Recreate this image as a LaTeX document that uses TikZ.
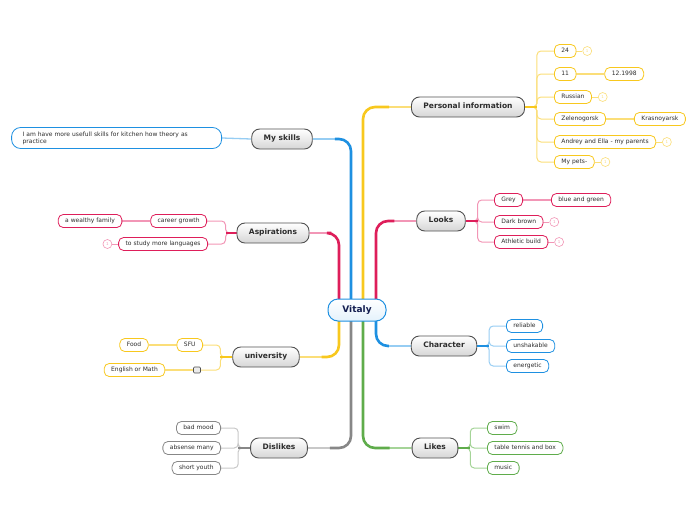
\documentclass[tikz,border=0pt]{standalone}
\usepackage{fontspec}
\setmainfont{DejaVu Sans}
\usepackage{tikz}
\usetikzlibrary{positioning,backgrounds}
\definecolor{yel}{RGB}{248,200,30}
\definecolor{yelL}{RGB}{251,222,120}
\definecolor{crim}{RGB}{222,30,90}
\definecolor{crimL}{RGB}{242,150,182}
\definecolor{sky}{RGB}{30,144,225}
\definecolor{skyL}{RGB}{150,205,243}
\definecolor{grn}{RGB}{95,172,75}
\definecolor{grnL}{RGB}{165,212,152}
\definecolor{gry}{RGB}{135,135,135}
\definecolor{gryL}{RGB}{200,200,200}
\definecolor{topicline}{RGB}{80,80,80}
\definecolor{ink}{RGB}{45,45,45}
\definecolor{navy}{RGB}{20,30,80}

\tikzset{
  topic/.style={draw=topicline, line width=0.9pt, rounded corners=8pt,
    top color=white, bottom color=black!16, minimum height=20pt,
    inner xsep=12pt, inner ysep=0pt, text height=5.4pt, text depth=1.5pt,
    text=ink, font=\bfseries\fontsize{7.5}{8.5}\selectfont},
  leaf/.style={draw=#1, line width=0.8pt, fill=white, rounded corners=5pt,
    minimum height=13pt, inner xsep=7pt, inner ysep=0pt,
    text height=4.3pt, text depth=1.3pt, text=ink,
    font=\fontsize{6}{7}\selectfont},
  numc/.style={circle, draw=#1, line width=0.6pt, fill=white, minimum size=9pt,
    inner sep=0pt, text=#1, font=\fontsize{4}{4}\selectfont},
  trunk/.style={draw=#1, line width=1.8pt, rounded corners=12pt},
  trunkS/.style={draw=#1, line width=2.6pt, rounded corners=12pt, shorten >=22pt},
  stub/.style={draw=#1, line width=1.4pt},
  twig/.style={draw=#1, line width=1pt, rounded corners=4pt},
  link/.style={draw=#1, line width=1.3pt},
}

\begin{document}
\begin{tikzpicture}[x=1pt,y=-1pt]
  \useasboundingbox (0,0) rectangle (696,520);
  % central topic
  \node[draw=sky, line width=1pt, rounded corners=10pt, top color=white,
    bottom color=sky!12, minimum width=58pt, minimum height=22pt, text=navy,
    font=\bfseries\fontsize{9}{10}\selectfont] (vit) at (357,310) {Vitaly};

  % main topics
  \node[topic] (pinfo)  at (468,107) {Personal information};
  \node[topic] (looks)  at (441,221) {Looks};
  \node[topic] (charac) at (444,346) {Character};
  \node[topic] (likes)  at (435,448) {Likes};
  \node[topic] (skills) at (282,139) {My skills};
  \node[topic] (aspir)  at (273,233) {Aspirations};
  \node[topic] (univ)   at (266,357) {university};
  \node[topic] (dislk)  at (279,448) {Dislikes};

  % personal information
  \node[leaf=yel, anchor=west] (p24) at (554,51) {24};
  \node[numc=yelL, right=6pt of p24] (p24n) {1};
  \node[leaf=yel, anchor=west] (p11) at (554,74) {11};
  \node[leaf=yel, right=28pt of p11] (p1998) {12.1998};
  \node[leaf=yel, anchor=west] (prus) at (554,97) {Russian};
  \node[numc=yelL, right=6pt of prus] (prusn) {1};
  \node[leaf=yel, anchor=west] (pzel) at (554,119) {Zelenogorsk};
  \node[leaf=yel, right=28pt of pzel] (pkras) {Krasnoyarsk};
  \node[leaf=yel, anchor=west] (ppar) at (554,142) {Andrey and Ella - my parents};
  \node[numc=yelL, right=6pt of ppar] (pparn) {1};
  \node[leaf=yel, anchor=west] (ppet) at (554,162) {My pets-};
  \node[numc=yelL, right=6pt of ppet] (ppetn) {1};

  % looks
  \node[leaf=crim, anchor=west] (lgrey) at (494,200) {Grey};
  \node[leaf=crim, right=28pt of lgrey] (leyes) {blue and green};
  \node[leaf=crim, anchor=west] (lhair) at (494,222) {Dark brown};
  \node[numc=crimL, right=6pt of lhair] (lhairn) {1};
  \node[leaf=crim, anchor=west] (lbuild) at (494,242) {Athletic build};
  \node[numc=crimL, right=6pt of lbuild] (lbuildn) {1};

  % character
  \node[leaf=sky, anchor=west] (crel) at (506,326) {reliable};
  \node[leaf=sky, anchor=west] (cuns) at (506,346) {unshakable};
  \node[leaf=sky, anchor=west] (cene) at (506,366) {energetic};

  % likes
  \node[leaf=grn, anchor=west] (kswim) at (487,428) {swim};
  \node[leaf=grn, anchor=west] (ktt)   at (487,448) {table tennis and box};
  \node[leaf=grn, anchor=west] (kmus)  at (487,468) {music};

  % my skills
  \node[leaf=sky, anchor=east, text width=188pt, align=left, inner xsep=11pt,
    minimum height=21pt, rounded corners=9pt, text height=, text depth=]
    (sktxt) at (222,138) {I am have more usefull skills for kitchen how theory as\\practice};

  % aspirations
  \node[leaf=crim, anchor=east] (acar) at (207,221) {career growth};
  \node[leaf=crim, left=28pt of acar] (afam) {a wealthy family};
  \node[leaf=crim, anchor=east] (alang) at (208,244) {to study more languages};
  \node[numc=crimL, left=6pt of alang] (alangn) {1};

  % university
  \node[leaf=yel, anchor=east] (usfu) at (203,345) {SFU};
  \node[leaf=yel, left=28pt of usfu] (ufood) {Food};
  \node[draw=topicline, line width=0.6pt, fill=black!8, rounded corners=1pt,
    minimum width=7pt, minimum height=6pt, inner sep=0pt] (usq) at (197,370) {};
  \node[leaf=yel, left=28pt of usq] (ueng) {English or Math};

  % dislikes
  \node[leaf=gry, anchor=east] (dmood) at (221,428) {bad mood};
  \node[leaf=gry, anchor=east] (dabs)  at (221,448) {absense many};
  \node[leaf=gry, anchor=east] (dyou)  at (221,468) {short youth};

  \begin{scope}[on background layer]
    % trunks from the centre
    \draw[trunk=yelL]  ([xshift=6pt]vit.center)   |- (pinfo.west);
    \draw[trunkS=yel]  ([xshift=6pt]vit.center)   |- (pinfo.west);
    \draw[trunk=crimL] ([xshift=19pt]vit.center)  |- (looks.west);
    \draw[trunkS=crim] ([xshift=19pt]vit.center)  |- (looks.west);
    \draw[trunk=skyL]  ([xshift=19pt]vit.center)  |- (charac.west);
    \draw[trunkS=sky]  ([xshift=19pt]vit.center)  |- (charac.west);
    \draw[trunk=grnL]  ([xshift=6pt]vit.center)   |- (likes.west);
    \draw[trunkS=grn]  ([xshift=6pt]vit.center)   |- (likes.west);
    \draw[trunk=skyL]  ([xshift=-6pt]vit.center)  |- (skills.east);
    \draw[trunkS=sky]  ([xshift=-6pt]vit.center)  |- (skills.east);
    \draw[trunk=crimL] ([xshift=-18pt]vit.center) |- (aspir.east);
    \draw[trunkS=crim] ([xshift=-18pt]vit.center) |- (aspir.east);
    \draw[trunk=yelL]  ([xshift=-18pt]vit.center) |- (univ.east);
    \draw[trunkS=yel]  ([xshift=-18pt]vit.center) |- (univ.east);
    \draw[trunk=gryL]  ([xshift=-6pt]vit.center)  |- (dislk.east);
    \draw[trunkS=gry]  ([xshift=-6pt]vit.center)  |- (dislk.east);

    % personal information branches
    \foreach \c in {p24,p11,prus,pzel,ppar,ppet}
      \draw[twig=yelL] (pinfo.east) -- ++(12,0) |- (\c.west);
    \draw[stub=yel] (pinfo.east) -- ++(12,0);
    \draw[twig=yelL] (p24.east) -- (p24n.west);
    \draw[twig=yelL] (prus.east) -- (prusn.west);
    \draw[twig=yelL] (ppar.east) -- (pparn.west);
    \draw[twig=yelL] (ppet.east) -- (ppetn.west);
    \draw[link=yelL] (p11.east) -- (p1998.west);
    \draw[link=yelL] (pzel.east) -- (pkras.west);

    % looks branches
    \foreach \c in {lgrey,lhair,lbuild}
      \draw[twig=crimL] (looks.east) -- ++(12,0) |- (\c.west);
    \draw[stub=crim] (looks.east) -- ++(12,0);
    \draw[twig=crimL] (lhair.east) -- (lhairn.west);
    \draw[twig=crimL] (lbuild.east) -- (lbuildn.west);
    \draw[link=crimL] (lgrey.east) -- (leyes.west);

    % character branches
    \foreach \c in {crel,cuns,cene}
      \draw[twig=skyL] (charac.east) -- ++(12,0) |- (\c.west);
    \draw[stub=sky] (charac.east) -- ++(12,0);

    % likes branches
    \foreach \c in {kswim,ktt,kmus}
      \draw[twig=grnL] (likes.east) -- ++(12,0) |- (\c.west);
    \draw[stub=grn] (likes.east) -- ++(12,0);

    % left side
    \draw[link=skyL] (skills.west) -- (sktxt.east);
    \foreach \c in {acar,alang}
      \draw[twig=crimL] (aspir.west) -- ++(-11,0) |- (\c.east);
    \draw[stub=crim] (aspir.west) -- ++(-11,0);
    \draw[twig=crimL] (alang.west) -- (alangn.east);
    \draw[link=crimL] (acar.west) -- (afam.east);
    \foreach \c in {usfu,usq}
      \draw[twig=yelL] (univ.west) -- ++(-12,0) |- (\c.east);
    \draw[stub=yel] (univ.west) -- ++(-12,0);
    \draw[link=yelL] (usfu.west) -- (ufood.east);
    \draw[link=yelL] (usq.west) -- (ueng.east);
    \foreach \c in {dmood,dabs,dyou}
      \draw[twig=gryL] (dislk.west) -- ++(-12,0) |- (\c.east);
    \draw[stub=gry] (dislk.west) -- ++(-12,0);
  \end{scope}
\end{tikzpicture}
\end{document}
